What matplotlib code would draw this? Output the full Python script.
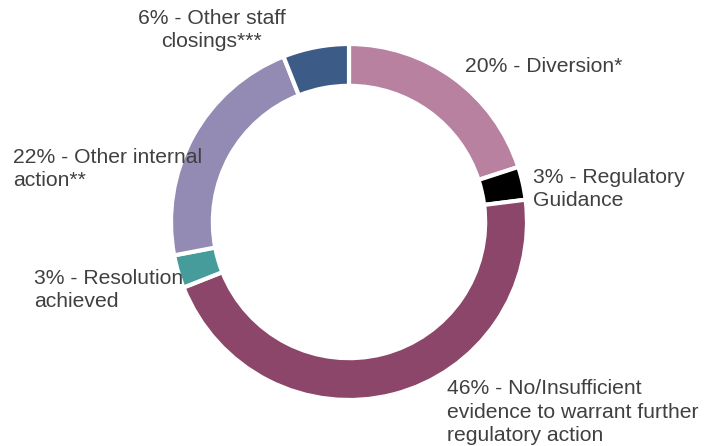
import numpy as np
import matplotlib.pyplot as plt

plt.rcParams['font.family'] = ['Liberation Sans', 'DejaVu Sans']

# Closure outcomes, clockwise from 12 o'clock
labels = ['20% - Diversion*',
          '3% - Regulatory\nGuidance',
          '46% - No/Insufficient\nevidence to warrant further\nregulatory action',
          '3% - Resolution\nachieved',
          '22% - Other internal\naction**',
          '6% - Other staff\nclosings***']
shares = [20, 3, 46, 3, 22, 6]
colors = ['#b7819f', '#000000', '#8b4669', '#469b9b', '#938bb4', '#3d5b87']

# label anchor in pixels (x, y from top) and horizontal alignment
label_pos = [(465, 66, 'left'), (533, 189, 'left'), (447, 412, 'left'),
             (34, 290, 'left'), (13, 169, 'left'), (212, 30, 'center')]

W, H = 717, 446
cx, cy, R = 349, 222, 178   # ring centre and outer radius in pixels

fig = plt.figure(figsize=(W/100, H/100), dpi=100)
ax = fig.add_axes([0, 0, 1, 1])

ax.pie(shares, colors=colors, startangle=90, counterclock=False, radius=1,
       wedgeprops=dict(width=0.235, edgecolor='white', linewidth=3))

ax.set_xlim(-cx/R, (W-cx)/R)
ax.set_ylim(-(H-cy)/R, cy/R)
ax.set_aspect('auto')
ax.axis('off')

for lab, (px, py, ha) in zip(labels, label_pos):
    fig.text(px/W, 1 - py/H, lab, ha=ha, va='center', multialignment=ha,
             fontsize=15.2, color='#404040', linespacing=1.3)

fig.savefig('out.png', dpi=100)
